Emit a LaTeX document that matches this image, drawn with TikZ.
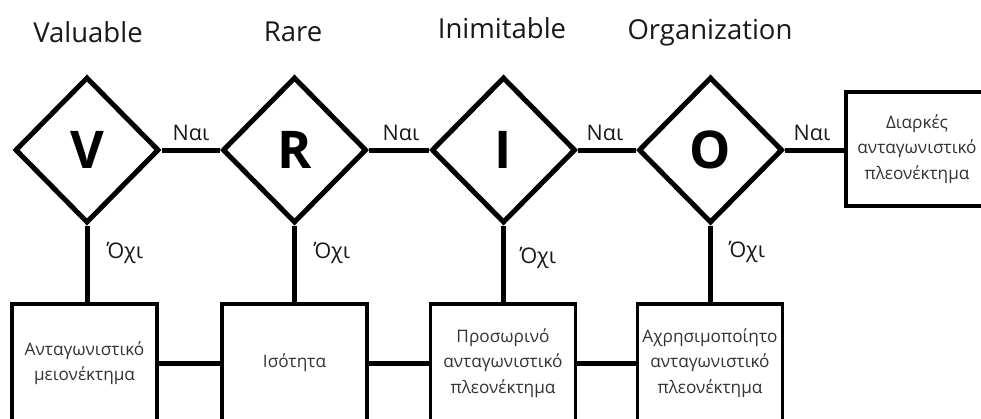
\documentclass[tikz,border=0pt]{standalone}
\usepackage{fontspec}
\setmainfont{Open Sans}
\usetikzlibrary{shapes.geometric}
\begin{document}
\begin{tikzpicture}[x=1pt,y=-1pt,
  gate/.style={diamond, draw, line width=5pt, line join=miter, minimum width=144pt, minimum height=146pt, inner sep=0pt, font=\fontsize{52}{52}\selectfont\bfseries},
  outcome/.style={draw, line width=3.5pt, minimum width=145pt, minimum height=118pt, inner sep=1pt, align=center, font=\fontsize{17.2}{25.5}\selectfont, text=black!80},
  link/.style={line width=5pt},
  heading/.style={anchor=base, font=\fontsize{27.5}{32}\selectfont, text=black!90},
  answer/.style={anchor=base, font=\fontsize{21.5}{26}\selectfont, text=black!90}]

\path[use as bounding box, clip] (0,0) rectangle (981,418);

% column headings
\node[heading] (tV) at (88,42) {Valuable};
\node[heading] (tR) at (293,41) {Rare};
\node[heading] (tI) at (502,38) {Inimitable};
\node[heading] (tO) at (710,39) {Organization};

% decision diamonds
\node[gate] (V) at (87,150) {V};
\node[gate] (R) at (294.5,150) {R};
\node[gate] (I) at (503.5,150) {I};
\node[gate] (O) at (710.5,150) {O};

% outcome boxes
\node[outcome] (goal) at (917,149) [minimum width=142pt, minimum height=114pt] {Διαρκές\\ανταγωνιστικό\\πλεονέκτημα};
\node[outcome] (b1) at (84.5,363) {Ανταγωνιστικό\\μειονέκτημα};
\node[outcome] (b2) at (294.5,363) {Ισότητα};
\node[outcome] (b3) at (503,363) {Προσωρινό\\ανταγωνιστικό\\πλεονέκτημα};
\node[outcome] (b4) at (710,363) {Αχρησιμοποίητο\\ανταγωνιστικό\\πλεονέκτημα};

% "yes" path along the top
\draw[link] (V.east) -- (R.west);
\draw[link] (R.east) -- (I.west);
\draw[link] (I.east) -- (O.west);
\draw[link] (O.east) -- (O.east -| goal.west);

% "no" branches down to the outcomes
\draw[link] (V.south) -- (V.south |- b1.north);
\draw[link] (R.south) -- (R.south |- b2.north);
\draw[link] (I.south) -- (I.south |- b3.north);
\draw[link] (O.south) -- (O.south |- b4.north);

% links between the outcome boxes
\draw[link] (b1.east) -- (b2.west);
\draw[link] (b2.east) -- (b3.west);
\draw[link] (b3.east) -- (b4.west);

% branch labels
\node[answer] (y1) at (191,140) {Ναι};
\node[answer] (y2) at (401,140) {Ναι};
\node[answer] (y3) at (605,140) {Ναι};
\node[answer] (y4) at (812,140) {Ναι};
\node[answer] (n1) at (125,258) {Όχι};
\node[answer] (n2) at (332,258) {Όχι};
\node[answer] (n3) at (538,263) {Όχι};
\node[answer] (n4) at (747,257) {Όχι};
\end{tikzpicture}
\end{document}
